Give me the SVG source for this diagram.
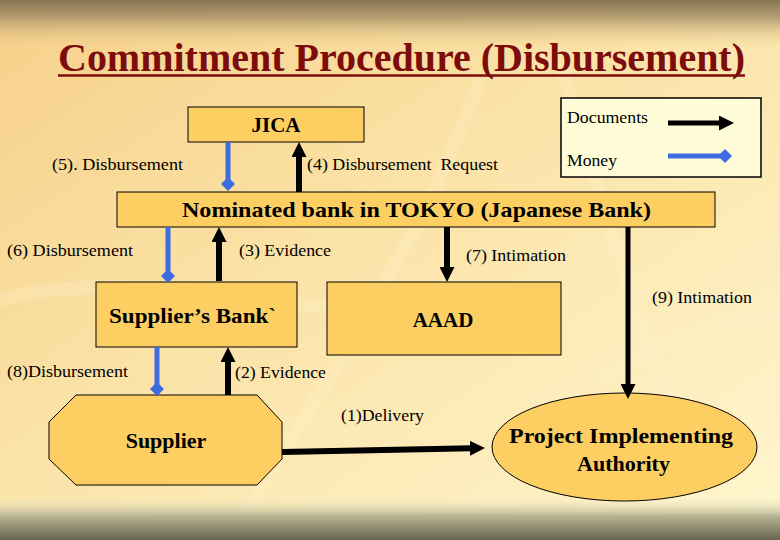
<svg xmlns="http://www.w3.org/2000/svg" width="780" height="540" viewBox="0 0 780 540">
<defs>
<linearGradient id="bg" x1="0" y1="0" x2="1" y2="1">
<stop offset="0" stop-color="#f6d089"/>
<stop offset="0.45" stop-color="#fbe3a8"/>
<stop offset="1" stop-color="#fff6cf"/>
</linearGradient>
<linearGradient id="topband" x1="0" y1="0" x2="0" y2="1">
<stop offset="0" stop-color="#857552"/>
<stop offset="0.35" stop-color="#a89068" stop-opacity="0.85"/>
<stop offset="1" stop-color="#f0cf8c" stop-opacity="0"/>
</linearGradient>
<linearGradient id="botband" x1="0" y1="0" x2="0" y2="1">
<stop offset="0" stop-color="#fbf4cf" stop-opacity="0"/>
<stop offset="0.45" stop-color="#b9b594"/>
<stop offset="1" stop-color="#66654f"/>
</linearGradient>
<marker id="arr" markerUnits="userSpaceOnUse" markerWidth="15" markerHeight="15" viewBox="0 0 15 15" refX="2" refY="7.5" orient="auto">
<path d="M0,0 L15,7.5 L0,15 z" fill="#000"/>
</marker>
<marker id="dia" markerUnits="userSpaceOnUse" markerWidth="14" markerHeight="14" viewBox="0 0 14 14" refX="7" refY="7" orient="auto">
<path d="M0,7 L7,0 L14,7 L7,14 z" fill="#3d6be0"/>
</marker>
<style>
text{font-family:"Liberation Serif","DejaVu Serif","Times New Roman",serif}
.box{fill:#fdcf63;stroke:#000;stroke-width:1}
.bt{font-weight:bold;fill:#000}
.lb{font-size:17px;fill:#000}
.doc{stroke:#000;stroke-width:6;fill:none;marker-end:url(#arr)}
.mon{stroke:#3d6be0;stroke-width:5;fill:none;marker-end:url(#dia)}
</style>
</defs>

<rect x="0" y="0" width="780" height="540" fill="url(#bg)"/>
<g fill="none" stroke="#fff3d0" stroke-opacity="0.25" stroke-width="14">
<path d="M230,540 C300,420 420,250 480,80"/>
<path d="M560,60 C600,200 640,330 720,540"/>
<path d="M0,300 C150,260 300,330 450,300"/>
<path d="M600,380 C680,330 740,310 780,320"/>
</g>
<rect x="0" y="0" width="780" height="48" fill="url(#topband)"/>
<rect x="0" y="496" width="780" height="44" fill="url(#botband)"/>

<g id="title">
<text x="58" y="71" font-weight="bold" font-size="40" fill="#7d0c0c" textLength="687" lengthAdjust="spacingAndGlyphs">Commitment Procedure (Disbursement)</text>
<line x1="58" y1="75.5" x2="745" y2="75.5" stroke="#7d0c0c" stroke-width="2.5"/>
</g>

<g id="legend">
<rect x="561" y="98" width="200" height="79" fill="#fffdd8" stroke="#000" stroke-width="1.5"/>
<text class="lb" x="567" y="123" textLength="81" lengthAdjust="spacingAndGlyphs">Documents</text>
<text class="lb" x="567" y="166" textLength="50" lengthAdjust="spacingAndGlyphs">Money</text>
<line class="doc" x1="668" y1="123" x2="721" y2="123" style="stroke-width:5"/>
<line class="mon" x1="668" y1="156" x2="725" y2="156"/>
</g>

<g id="jica">
<rect class="box" x="188" y="107" width="176" height="35"/>
<text class="bt" x="276" y="132" font-size="21" text-anchor="middle">JICA</text>
</g>

<g id="nominated-bank">
<rect class="box" x="117" y="192" width="598" height="35"/>
<text class="bt" x="182" y="217" font-size="21" textLength="469" lengthAdjust="spacingAndGlyphs">Nominated bank in TOKYO (Japanese Bank)</text>
</g>

<g id="suppliers-bank">
<rect class="box" x="96" y="282" width="201" height="65"/>
<text class="bt" x="109" y="323" font-size="22" textLength="167" lengthAdjust="spacingAndGlyphs">Supplier’s Bank`</text>
</g>

<g id="aaad">
<rect class="box" x="327" y="282" width="234" height="73"/>
<text class="bt" x="443" y="327" font-size="21" text-anchor="middle">AAAD</text>
</g>

<g id="supplier">
<polygon class="box" points="76,395 257,395 282,422 282,459 257,485 76,485 49,459 49,422"/>
<text class="bt" x="166" y="448" font-size="22" text-anchor="middle">Supplier</text>
</g>

<g id="pia">
<ellipse class="box" cx="624.5" cy="447" rx="132.5" ry="54"/>
<text class="bt" x="621" y="443" font-size="22" text-anchor="middle" textLength="224" lengthAdjust="spacingAndGlyphs">Project Implementing</text>
<text class="bt" x="623.5" y="471" font-size="22" text-anchor="middle">Authority</text>
</g>

<g id="connectors">
<line class="mon" x1="228" y1="142" x2="228" y2="184"/>
<line class="doc" x1="299" y1="192" x2="299" y2="155"/>
<line class="mon" x1="168" y1="227" x2="168" y2="276"/>
<line class="doc" x1="219" y1="281" x2="219" y2="240"/>
<line class="doc" x1="447" y1="227" x2="447" y2="269"/>
<line class="doc" x1="628" y1="227" x2="628" y2="386" style="stroke-width:5"/>
<line class="mon" x1="157" y1="347" x2="157" y2="389"/>
<line class="doc" x1="228" y1="395" x2="228" y2="360"/>
<line class="doc" x1="282" y1="452" x2="472" y2="448.3"/>
</g>

<g id="labels">
<text class="lb" x="52" y="170" textLength="131" lengthAdjust="spacingAndGlyphs">(5). Disbursement</text>
<text class="lb" x="307" y="170" textLength="191" lengthAdjust="spacingAndGlyphs" xml:space="preserve">(4) Disbursement  Request</text>
<text class="lb" x="7" y="256" textLength="126" lengthAdjust="spacingAndGlyphs">(6) Disbursement</text>
<text class="lb" x="239" y="256" textLength="92" lengthAdjust="spacingAndGlyphs">(3) Evidence</text>
<text class="lb" x="466" y="261" textLength="100" lengthAdjust="spacingAndGlyphs">(7) Intimation</text>
<text class="lb" x="652" y="303" textLength="100" lengthAdjust="spacingAndGlyphs">(9) Intimation</text>
<text class="lb" x="7" y="377" textLength="121" lengthAdjust="spacingAndGlyphs">(8)Disbursement</text>
<text class="lb" x="235" y="378" textLength="91" lengthAdjust="spacingAndGlyphs">(2) Evidence</text>
<text class="lb" x="341" y="421" textLength="83" lengthAdjust="spacingAndGlyphs">(1)Delivery</text>
</g>
</svg>
